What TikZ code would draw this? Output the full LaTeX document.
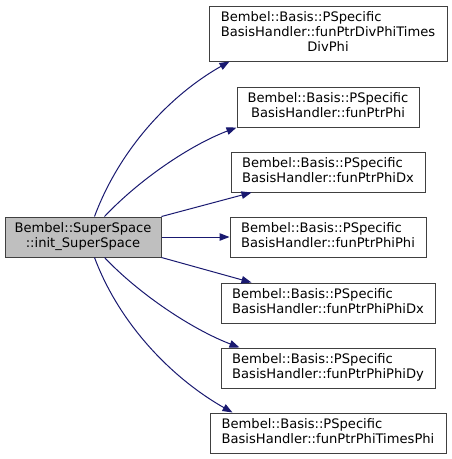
\documentclass[tikz,border=0pt]{standalone}
\usepackage{fontspec}
\setmainfont{DejaVu Sans}
\usetikzlibrary{arrows.meta,calc}
\definecolor{edgeblue}{HTML}{191970}
\definecolor{boxline}{HTML}{404040}
\definecolor{rootfill}{HTML}{BFBFBF}
\newcommand{\twol}[2]{\begin{tabular}{@{}l@{}}#1\\\multicolumn{1}{@{}c@{}}{#2}\end{tabular}}
\newcommand{\threel}[3]{\begin{tabular}{@{}l@{}}#1\\#2\\\multicolumn{1}{@{}c@{}}{#3}\end{tabular}}
\begin{document}
\begin{tikzpicture}[x=1pt,y=-1pt,
  every node/.style={font=\fontsize{13.1}{14.7}\selectfont},
  fbox/.style={draw=boxline, line width=1pt, fill=white, inner sep=0pt, minimum height=40pt},
  rootbox/.style={fbox, fill=rootfill},
  conn/.style={draw=edgeblue, line width=1pt, -{Triangle[length=10pt,width=7.5pt]}}]
\useasboundingbox (0,0) rectangle (452,459);
\renewcommand{\arraystretch}{1}
\setlength{\tabcolsep}{0pt}
\node[rootbox, minimum width=156pt] (src) at (83,237)
  {\begin{tabular}{@{}c@{}}Bembel::SuperSpace\\::init\_SuperSpace\end{tabular}};
\node[fbox, minimum width=238pt, minimum height=55pt] (b1) at (328,33.5)
  {\threel{Bembel::Basis::PSpecific}{BasisHandler::funPtrDivPhiTimes}{DivPhi}};
\node[fbox, minimum width=182pt] (b2) at (328,107)
  {\twol{Bembel::Basis::PSpecific}{BasisHandler::funPtrPhi}};
\node[fbox, minimum width=194pt] (b3) at (328,172)
  {\twol{Bembel::Basis::PSpecific}{BasisHandler::funPtrPhiDx}};
\node[fbox, minimum width=196pt] (b4) at (328,237)
  {\twol{Bembel::Basis::PSpecific}{BasisHandler::funPtrPhiPhi}};
\node[fbox, minimum width=214pt] (b5) at (328,303)
  {\twol{Bembel::Basis::PSpecific}{BasisHandler::funPtrPhiPhiDx}};
\node[fbox, minimum width=214pt] (b6) at (328,368)
  {\twol{Bembel::Basis::PSpecific}{BasisHandler::funPtrPhiPhiDy}};
\node[fbox, minimum width=236pt] (b7) at (328,433)
  {\twol{Bembel::Basis::PSpecific}{BasisHandler::funPtrPhiTimesPhi}};
\draw[conn] ($(src.north west)+(90,0)$) .. controls +(25,-67) and +(-60,34) .. ($(b1.south west)+(21,0)$);
\draw[conn] ($(src.north west)+(100,0)$) .. controls +(35,-37) and +(-47,18) .. (b2.south west);
\draw[conn] (src.north east) -- ($(b3.south west)+(21,0)$);
\draw[conn] (src.east) -- (b4.west);
\draw[conn] (src.south east) -- ($(b5.north west)+(31,0)$);
\draw[conn] ($(src.south west)+(100,0)$) .. controls +(35,37) and +(-47,-18) .. ($(b6.north west)+(19,0)$);
\draw[conn] ($(src.south west)+(90,0)$) .. controls +(25,67) and +(-60,-34) .. ($(b7.north west)+(23,0)$);
\end{tikzpicture}
\end{document}
